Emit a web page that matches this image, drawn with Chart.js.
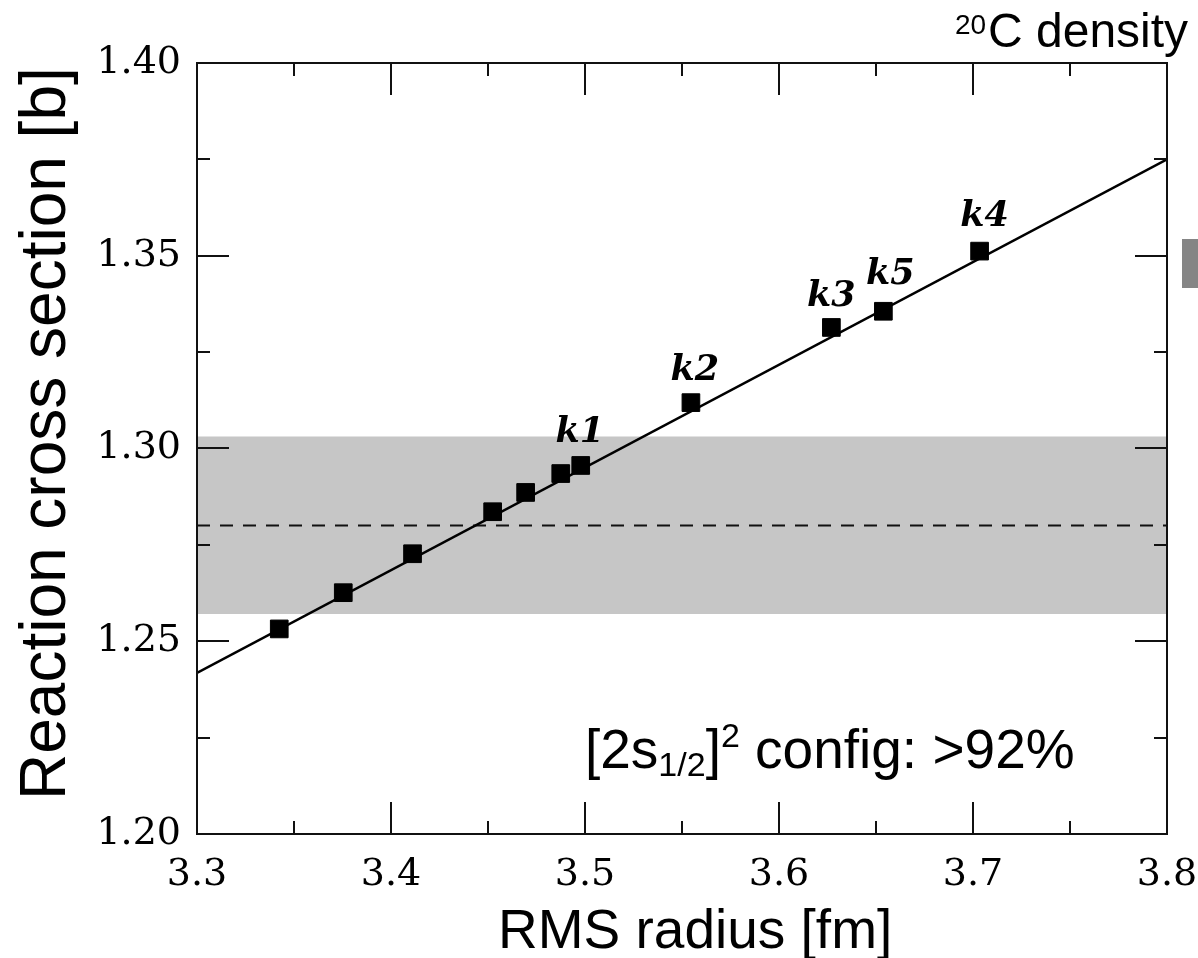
<!DOCTYPE html>
<html>
<head>
<meta charset="utf-8">
<script src="https://cdn.jsdelivr.net/npm/chart.js@4.4.0/dist/chart.umd.min.js"></script>
<style>
  body { margin: 0; background: #fff; }
  canvas { display: block; }
</style>
</head>
<body>
<canvas id="chart" width="1198" height="958"></canvas>
<script>
// data
const radius = [3.3424, 3.3754, 3.4111, 3.4524, 3.4694, 3.4875, 3.4978, 3.5546, 3.6270, 3.6538, 3.7034]
const crossSection = [1.2532, 1.2626, 1.2727, 1.2836, 1.2886, 1.2935, 1.2956, 1.3119, 1.3314, 1.3356, 1.3512]
const pointNames = ["", "", "", "", "", "", "k1", "k2", "k3", "k5", "k4"]
const fitX = [3.3, 3.8]
const fitY = [1.2418, 1.375]
const measured = 1.28
const bandLow = 1.2571
const bandHigh = 1.3031
const xTicks = [3.3, 3.4, 3.5, 3.6, 3.7, 3.8]
const yTicks = [1.20, 1.25, 1.30, 1.35, 1.40]

// label nudges (px) relative to their square
const nameShift = { k1: [-1, -23], k2: [4, -23], k3: [0, -21], k5: [7, -27], k4: [5, -25] }

const sans = '"Liberation Sans", Arial, sans-serif'
const serif = '"DejaVu Serif", serif'

const span = (lo, hi, v) => [{ x: lo, y: v }, { x: hi, y: v }]

const decor = {
  id: 'decor',
  afterDraw(chart) {
    const { ctx, chartArea: a, scales: { x, y } } = chart
    ctx.save()

    // frame + inward ticks on all sides
    ctx.strokeStyle = '#111'
    ctx.lineWidth = 2
    ctx.strokeRect(a.left, a.top, a.right - a.left, a.bottom - a.top)
    ctx.beginPath()
    xTicks.forEach((v, i) => {
      const marks = [[v, 32]]
      if (i < xTicks.length - 1) marks.push([(v + xTicks[i + 1]) / 2, 13])
      marks.forEach(([t, len]) => {
        const px = Math.round(x.getPixelForValue(t))
        ctx.moveTo(px, a.bottom); ctx.lineTo(px, a.bottom - len)
        ctx.moveTo(px, a.top); ctx.lineTo(px, a.top + len)
      })
    })
    yTicks.forEach((v, i) => {
      const marks = [[v, 32]]
      if (i < yTicks.length - 1) marks.push([(v + yTicks[i + 1]) / 2, 13])
      marks.forEach(([t, len]) => {
        const py = Math.round(y.getPixelForValue(t))
        ctx.moveTo(a.left, py); ctx.lineTo(a.left + len, py)
        ctx.moveTo(a.right, py); ctx.lineTo(a.right - len, py)
      })
    })
    ctx.stroke()

    // k labels
    ctx.fillStyle = '#000'
    ctx.font = 'bold italic 35px ' + serif
    ctx.textAlign = 'center'
    ctx.textBaseline = 'alphabetic'
    pointNames.forEach((n, i) => {
      if (!n) return
      const s = nameShift[n]
      ctx.fillText(n, x.getPixelForValue(radius[i]) + s[0], y.getPixelForValue(crossSection[i]) + s[1])
    })

    // configuration note
    ctx.textAlign = 'left'
    let cx = 585
    const base = 768
    const seg = (t, size, dy) => {
      ctx.font = size + 'px ' + sans
      ctx.fillText(t, cx, base + dy)
      cx += ctx.measureText(t).width
    }
    seg('[2s', 55, 0)
    seg('1/2', 34, 8)
    seg(']', 55, 0)
    seg('2', 34, -21)
    seg(' config: >92%', 55, 0)

    // axis titles
    ctx.font = '55px ' + sans
    ctx.textAlign = 'left'
    ctx.fillText('RMS radius [fm]', 498, 948)
    ctx.save()
    ctx.translate(65, 800)
    ctx.rotate(-Math.PI / 2)
    ctx.font = '64px ' + sans
    ctx.fillText('Reaction cross section [b]', 0, 0)
    ctx.restore()

    // top right caption (cut by the page edge)
    ctx.font = '28px ' + sans
    ctx.fillText('20', 955, 34)
    ctx.font = '48px ' + sans
    ctx.fillText('C density', 988, 47)

    ctx.fillStyle = '#858585'
    ctx.fillRect(1182, 239, 16, 49)
    ctx.restore()
  }
}

new Chart(document.getElementById('chart'), {
  type: 'scatter',
  data: {
    datasets: [
      {
        data: radius.map((r, i) => ({ x: r, y: crossSection[i] })),
        pointStyle: 'rect',
        pointRadius: 12.5,
        backgroundColor: '#000',
        borderColor: '#000',
        borderWidth: 1
      },
      {
        type: 'line',
        data: fitX.map((v, i) => ({ x: v, y: fitY[i] })),
        borderColor: '#000',
        borderWidth: 2.5,
        pointRadius: 0,
        fill: false
      },
      {
        type: 'line',
        data: span(fitX[0], fitX[1], measured),
        borderColor: '#111',
        borderWidth: 2,
        borderDash: [13, 10],
        pointRadius: 0,
        fill: false
      },
      {
        type: 'line',
        data: span(fitX[0], fitX[1], bandHigh),
        borderWidth: 0,
        borderColor: 'rgba(0,0,0,0)',
        backgroundColor: '#c6c6c6',
        pointRadius: 0,
        fill: '+1'
      },
      {
        type: 'line',
        data: span(fitX[0], fitX[1], bandLow),
        borderWidth: 0,
        borderColor: 'rgba(0,0,0,0)',
        pointRadius: 0,
        fill: false
      }
    ]
  },
  options: {
    responsive: false,
    animation: false,
    layout: { padding: { top: 63, right: 31, left: 0, bottom: 0 } },
    plugins: { legend: { display: false }, tooltip: { enabled: false } },
    scales: {
      x: {
        type: 'linear',
        min: 3.3,
        max: 3.8,
        afterBuildTicks: s => { s.ticks = xTicks.map(v => ({ value: v })) },
        afterFit: s => { s.height = 958 - 834; s.paddingLeft = 0; s.paddingRight = 0 },
        grid: { display: false, drawTicks: false },
        border: { display: false },
        ticks: {
          color: '#000',
          padding: 18,
          maxRotation: 0,
          font: { family: serif, size: 38 },
          callback: v => v.toFixed(1)
        }
      },
      y: {
        min: 1.2,
        max: 1.4,
        afterBuildTicks: s => { s.ticks = yTicks.map(v => ({ value: v })) },
        afterFit: s => { s.width = 197; s.paddingTop = 0; s.paddingBottom = 0 },
        grid: { display: false, drawTicks: false },
        border: { display: false },
        ticks: {
          color: '#000',
          padding: 16,
          font: { family: serif, size: 38 },
          callback: v => v.toFixed(2)
        }
      }
    }
  },
  plugins: [decor]
})
</script>
</body>
</html>
